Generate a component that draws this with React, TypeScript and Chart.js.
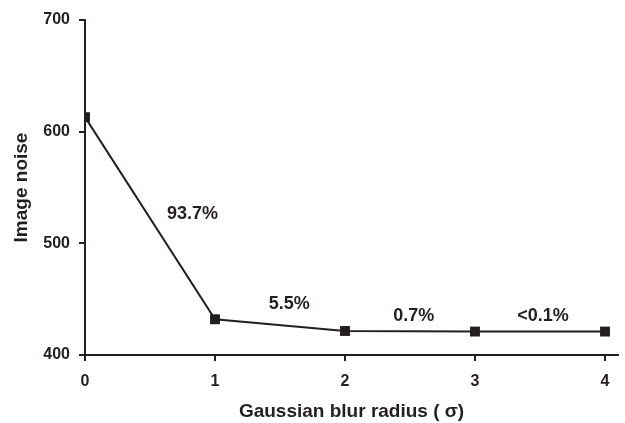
import React, { useEffect, useRef } from "react";
import { Chart, registerables } from "chart.js";

Chart.register(...registerables);

const blurRadius = [0, 1, 2, 3, 4];
const imageNoise = [613, 432, 421.5, 421, 421];
const xTickValues = [0, 1, 2, 3, 4];
const yTickValues = [400, 500, 600, 700];
const dropLabels = ["93.7%", "5.5%", "0.7%", "<0.1%"];
const dropLabelX = [0.827, 1.571, 2.528, 3.523];
const dropLabelY = [525.8, 445.7, 434.6, 434.6];

const INK = "#231f20";
const FONT = "'Liberation Sans', Arial, Helvetica, sans-serif";

const labelPlugin = {
  id: "dropLabels",
  afterDatasetsDraw(chart: any) {
    const { ctx, scales } = chart;
    ctx.save();
    ctx.fillStyle = INK;
    ctx.font = `bold 18px ${FONT}`;
    ctx.textAlign = "center";
    ctx.textBaseline = "middle";
    dropLabels.forEach((t, i) => {
      ctx.fillText(t, scales.x.getPixelForValue(dropLabelX[i]), scales.y.getPixelForValue(dropLabelY[i]));
    });
    ctx.restore();
  },
};

export default function App() {
  const ref = useRef<HTMLCanvasElement>(null);
  useEffect(() => {
    if (!ref.current) return;
    const chart = new Chart(ref.current, {
      type: "line",
      data: {
        datasets: [
          {
            data: blurRadius.map((x, i) => ({ x, y: imageNoise[i] })),
            borderColor: INK,
            borderWidth: 2,
            backgroundColor: INK,
            pointStyle: "rect",
            pointRadius: 7,
            pointBorderWidth: 0,
            pointBackgroundColor: INK,
            tension: 0,
          },
        ],
      },
      options: {
        responsive: false,
        animation: false,
        events: [],
        layout: { padding: { left: 0, top: 20, right: 7, bottom: 0 } },
        plugins: { legend: { display: false }, tooltip: { enabled: false } },
        scales: {
          x: {
            type: "linear",
            min: 0,
            max: 4.1,
            afterBuildTicks: (s: any) => {
              s.ticks = xTickValues.map((v) => ({ value: v }));
            },
            afterFit: (s: any) => {
              s.height = 68;
            },
            border: { display: true, color: INK, width: 2 },
            grid: { drawOnChartArea: false, drawTicks: true, tickLength: 6, color: INK, lineWidth: 2 },
            ticks: { color: INK, padding: 11, font: { family: FONT, size: 16, weight: "bold" } },
            title: {
              display: true,
              text: "Gaussian blur radius ( σ)",
              color: INK,
              padding: { top: 0, bottom: 0 },
              font: { family: FONT, size: 19, weight: "bold" },
            },
          },
          y: {
            min: 400,
            max: 700,
            afterBuildTicks: (s: any) => {
              s.ticks = yTickValues.map((v) => ({ value: v }));
            },
            afterFit: (s: any) => {
              s.width = 85;
            },
            border: { display: true, color: INK, width: 2 },
            grid: { drawOnChartArea: false, drawTicks: true, tickLength: 6, color: INK, lineWidth: 2 },
            ticks: { color: INK, padding: 9, font: { family: FONT, size: 16, weight: "bold" } },
            title: {
              display: true,
              text: "Image noise",
              color: INK,
              padding: { top: 10, bottom: 0 },
              font: { family: FONT, size: 19, weight: "bold" },
            },
          },
        },
      },
      plugins: [labelPlugin],
    } as any);
    return () => chart.destroy();
  }, []);
  return (
    <div style={{ position: "absolute", left: 0, top: 0, width: 625, height: 423, background: "#fff" }}>
      <canvas ref={ref} width={625} height={423} />
    </div>
  );
}
